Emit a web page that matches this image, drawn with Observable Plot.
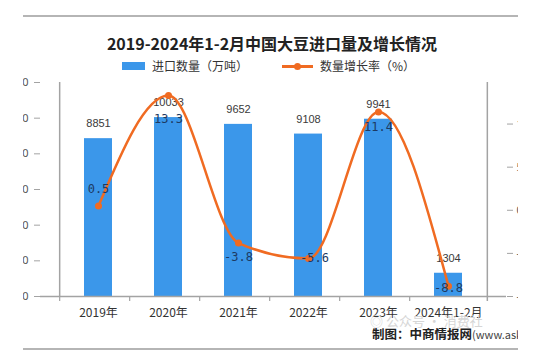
<!DOCTYPE html>
<html><head><meta charset="utf-8">
<script src="https://cdn.jsdelivr.net/npm/d3@7"></script>
<script src="https://cdn.jsdelivr.net/npm/@observablehq/plot@0.6"></script>
<style>
body{margin:0;background:#fff;font-family:"Noto Sans CJK SC","Noto Sans",sans-serif;}
#clip{position:absolute;left:23px;top:0;width:495px;height:354px;overflow:hidden;background:#fff;}
#inner{position:absolute;left:-23px;top:0;width:547px;height:354px;}
#chart{position:absolute;left:0;top:0;}
.hl{position:absolute;left:23px;width:495px;height:2px;background:#b5b5b5;}
#title{position:absolute;left:0;width:544px;top:33px;text-align:center;font-size:16px;font-weight:bold;color:#222;line-height:20px;white-space:nowrap;}
.lg{position:absolute;font-size:12px;color:#333;line-height:14px;top:59px;white-space:nowrap;}
#src{position:absolute;left:372px;top:326px;font-size:12.5px;color:#222;white-space:nowrap;line-height:16px;}
#src b{font-weight:bold;}
#src span{font-size:11px;font-weight:normal;color:#444;}
#wm{position:absolute;left:370px;top:313px;font-size:13px;color:#d6d6d6;white-space:nowrap;line-height:15px;}
</style></head><body>
<div id="clip"><div id="inner">
  <div class="hl" style="top:15px"></div>
  <div class="hl" style="top:348px"></div>
  <div id="chart"></div>
  <div id="title"></div>
  <div id="legend"></div>
  <div id="wm">◎ 公众号 · 消费社</div>
  <div id="src"></div>
</div></div>
<script>
const titleText = "2019-2024年1-2月中国大豆进口量及增长情况";
const seriesNames = ["进口数量（万吨）", "数量增长率（%）"];
const sourceBold = "制图：中商情报网";
const sourceRest = "(www.askci.com)";
const categories = ["2019年","2020年","2021年","2022年","2023年","2024年1-2月"];
const importVolume = [8851, 10033, 9652, 9108, 9941, 1304];
const growthRate = [0.5, 13.3, -3.8, -5.6, 11.4, -8.8];
const leftTicks = [0, 2000, 4000, 6000, 8000, 10000, 12000];
const rightTicks = [-10, -5, 0, 5, 10];

const W = 547, H = 354, mL = 40, mR = 41, mT = 82, mB = 58;
const yMax = 12000, gMin = -10, gMax = 14.82;
const barColor = "#3b97ea", lineColor = "#f06b22", axisColor = "#a3a3a3";
const g2y = d3.scaleLinear([gMin, gMax], [0, yMax]);
const data = categories.map((c, i) => ({c, v: importVolume[i], g: growthRate[i], gy: g2y(growthRate[i])}));
const band = (W - mL - mR) / categories.length;
const tickUnits = 5 * yMax / (H - mT - mB);
// label placement (pixels) for growth labels
const labelDy = [-17, 24, 14, 0, 15, 2];
const labelDx = [0, 0, 0, 6, 0, 0];

document.getElementById("title").textContent = titleText;
document.getElementById("src").innerHTML = "<b>" + sourceBold + "</b><span>" + sourceRest + "</span>";
document.getElementById("legend").innerHTML =
  `<div style="position:absolute;left:122px;top:62px;width:23px;height:8px;background:${barColor}"></div>` +
  `<div class="lg" style="left:152px">${seriesNames[0]}</div>` +
  `<div style="position:absolute;left:282px;top:65px;width:31px;height:2.5px;background:${lineColor}"></div>` +
  `<div style="position:absolute;left:294px;top:62.5px;width:7px;height:7px;border-radius:50%;background:${lineColor}"></div>` +
  `<div class="lg" style="left:320px">${seriesNames[1]}</div>`;

const plot = Plot.plot({
  width: W, height: H,
  marginLeft: mL, marginRight: mR, marginTop: mT, marginBottom: mB,
  style: {background: "transparent", overflow: "visible"},
  x: {type: "band", domain: categories, padding: 0.6, axis: null},
  y: {domain: [0, yMax], axis: null},
  marks: [
    Plot.barY(data, {x: "c", y: "v", fill: barColor}),
    Plot.text(data, {x: "c", y: "v", text: d => String(d.v), dy: -15, fontSize: 11, fill: "#3a3a3a", fontFamily: "Liberation Sans, Arial, sans-serif"}),
    // axes lines
    Plot.ruleY([0], {stroke: axisColor, strokeWidth: 1.3}),
    Plot.ruleX([categories[0]], {x: d => d, dx: -band / 2, y1: 0, y2: yMax, stroke: axisColor, strokeWidth: 1.5}),
    Plot.ruleX([categories[categories.length - 1]], {x: d => d, dx: band / 2, y1: -tickUnits, y2: yMax, stroke: axisColor, strokeWidth: 1.5}),
    Plot.ruleX(categories, {x: d => d, dx: -band / 2, y1: 0, y2: -tickUnits, stroke: axisColor, strokeWidth: 1.2}),
    Plot.axisY({anchor: "left", ticks: leftTicks, tickSize: 6, tickPadding: 6, fontSize: 11, stroke: axisColor, color: "#555", label: null, tickFormat: d => String(d)}),
    Plot.axisY({anchor: "right", ticks: rightTicks.map(g2y), tickSize: 6, tickPadding: 4, fontSize: 11, stroke: axisColor, color: "#555", label: null, tickFormat: v => String(Math.round(g2y.invert(v)))}),
    Plot.axisX({ticks: categories, tickSize: 0, tickPadding: 12, fontSize: 12, color: "#333", label: null, fontFamily: "Noto Sans CJK SC"}),
    // growth line
    Plot.line(data, {x: "c", y: "gy", stroke: lineColor, strokeWidth: 2.5, curve: "monotone-x"}),
    Plot.dot(data, {x: "c", y: "gy", r: 3.5, fill: lineColor, stroke: null}),
    ...data.map((d, i) => Plot.text([d], {x: "c", y: "gy", text: d => String(d.g), dy: labelDy[i], dx: labelDx[i], fontSize: 12, fill: "#1d3a63", fontFamily: "DejaVu Sans Mono, monospace"}))
  ]
});
document.getElementById("chart").appendChild(plot);
</script>
</body></html>
